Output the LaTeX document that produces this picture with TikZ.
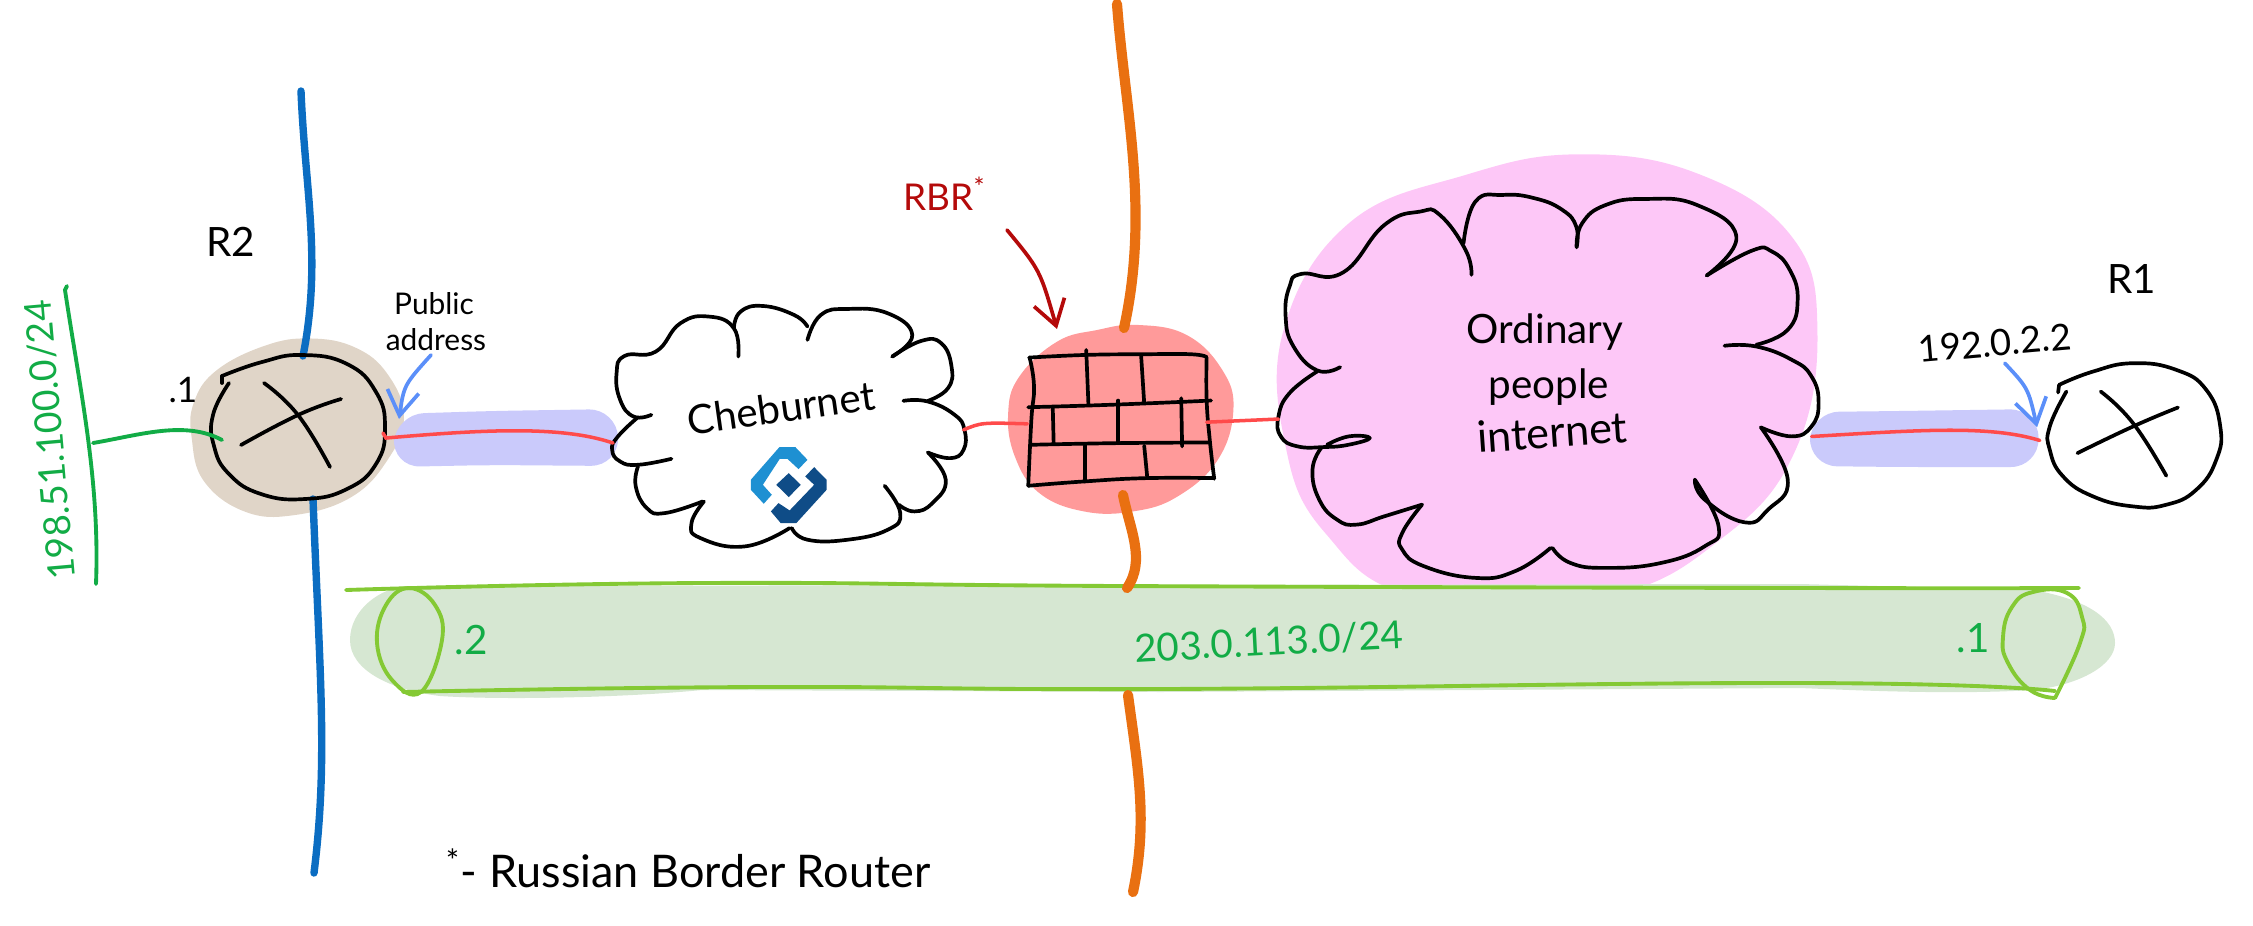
\documentclass[tikz,border=0pt]{standalone}
\usepackage{fontspec}
\setmainfont{Lato}
\usetikzlibrary{arrows.meta}
\definecolor{brownfill}{HTML}{E0D5C8}
\definecolor{lavfill}{HTML}{CACAFB}
\definecolor{redfill}{HTML}{FF9A9A}
\definecolor{pinkfill}{HTML}{FDC7F7}
\definecolor{bandfill}{HTML}{D6E7D2}
\definecolor{bandline}{HTML}{84C934}
\definecolor{netgreen}{HTML}{12AC46}
\definecolor{asblue}{HTML}{0B6DC2}
\definecolor{asorange}{HTML}{E97011}
\definecolor{linkred}{HTML}{FF4B4B}
\definecolor{notered}{HTML}{B40A0A}
\definecolor{noteblue}{HTML}{5B8FF9}
\definecolor{logolight}{HTML}{1E90D2}
\definecolor{logodark}{HTML}{0F4C87}

\begin{document}
\begin{tikzpicture}[
        x=0.1mm,
        y=-0.1mm,
        ink/.style={
            black,
            line width=1.05pt,
            line cap=round,
            line join=round,
        },
        asline/.style={
            line width=2.1pt,
            line cap=round,
            asblue,
        },
        borderline/.style={
            line width=2.9pt,
            line cap=round,
            asorange,
        },
        redlink/.style={
            line width=1pt,
            line cap=round,
            linkred,
        },
        netline/.style={
            line width=1.1pt,
            line cap=round,
            netgreen,
        },
        bandedge/.style={
            line width=1.1pt,
            line cap=round,
            bandline,
        },
        notearrow/.style={
            line width=1.05pt,
            line cap=round,
            -{Straight Barb[length=7pt, width=9pt]},
        },
        hand/.style={
            inner sep=0pt,
            font=\fontsize{11.5}{13}\selectfont,
        },
        handsmall/.style={
            inner sep=0pt,
            font=\fontsize{8.5}{10}\selectfont,
        },
        smoothline/.style={
            smooth,
            tension=0.8,
        },
        smoothblob/.style={
            smooth cycle,
            tension=0.7,
        },
        pill/.style={
            lavfill,
            rounded corners=8pt,
        },
    ]
    \useasboundingbox (0, 0) rectangle (2253, 925);

    % filled blobs
    \begin{scope}[shift={(0, 60)}, xscale=0.408, yscale=0.357]
        \fill[brownfill] plot[smoothblob] coordinates {
            (760,780) (650,800) (530,870) (475,960) (470,1060) (500,1180) (600,1265)
            (720,1275) (860,1225) (950,1120) (990,1000) (950,880) (870,805)};
    \end{scope}
    \fill[pill] (396,414) -- (490,411) -- (617,409) -- (619,466) -- (490,465) -- (392,467) -- cycle;
    \begin{scope}[shift={(580, 260)}, xscale=0.446, yscale=0.333]
        \fill[redfill] plot[smoothblob] coordinates {
            (1250,195) (1360,225) (1440,330) (1465,450) (1430,600) (1340,710) (1240,755)
            (1130,755) (1030,700) (975,590) (960,460) (985,350) (1070,245) (1160,210)};
    \end{scope}
    \begin{scope}[shift={(1250, 130)}, xscale=0.3954, yscale=0.333]
        \fill[pinkfill] plot[smoothblob] coordinates {
            (830,73) (545,135) (250,280) (85,600) (90,950) (190,1210) (420,1400) (900,1400)
            (1200,1220) (1380,960) (1435,600) (1370,320) (1130,130)};
    \end{scope}
    \fill[pill] (1811,412) -- (1900,411) -- (2038,409) -- (2039,467) -- (1900,467) -- (1809,466) -- cycle;

    % green band
    \fill[bandfill] (350,640) .. controls (350,610) and (380,587) .. (409,586) -- (1800,584) -- (2033,590)
        .. controls (2090,600) and (2115,620) .. (2115,643) .. controls (2115,665) and (2080,685) .. (2033,690)
        .. controls (1950,695) and (1850,690) .. (1800,688) -- (1161,692) -- (702,690)
        .. controls (620,698) and (500,700) .. (440,696) .. controls (390,690) and (350,670) .. (350,640) -- cycle;
    \draw[bandedge] plot[smoothline] coordinates {(346,590) (702,583) (1121,586) (1800,588) (2079,588)};
    \draw[bandedge] plot[smoothline] coordinates {(403,692) (759,687) (1161,689) (1800,683) (2055,691)};
    \draw[bandedge] plot[smoothblob] coordinates {(409,588) (435,605) (442,640) (421,692) (392,680) (377,643) (386,605)};
    \draw[bandedge] plot[smoothline] coordinates {(2055,698) (2030,690) (2008,663) (2003,637) (2012,607) (2033,592) (2067,593) (2082,617) (2080,643) (2055,698)};

    % router R2
    \draw[asline] (301,91) .. controls (305,190) and (322,260) .. (303,356);
    \draw[asline] (313,499) .. controls (320,680) and (328,760) .. (314,873);
    \draw[ink] (222,383) -- (222,376);
    \draw[ink] plot[smoothline] coordinates {
        (222,376) (262,362) (302,355) (347,364) (376,392) (385,428) (376,464) (347,489)
        (305,499) (261,494) (229,474) (214,446) (213,415) (229,383)};
    \draw[ink] plot[smoothline] coordinates {(241,445) (298,415) (341,399)};
    \draw[ink] plot[smoothline] coordinates {(264,383) (298,415) (330,467)};

    \node[hand] (r2label) at (231, 242) {R2};
    \node[hand, font=\fontsize{10}{12}\selectfont] (r2dot) at (183, 390) {.1};
    \node[handsmall] (publabel) at (434, 304) {Public};
    \node[handsmall] (addrlabel) at (436, 340) {address};

    \draw[netline] (67,286) -- (65,290) .. controls (80,390) and (100,480) .. (96,584);
    \draw[netline] (93,443) .. controls (140,435) and (185,420) .. (222,440);
    \node[hand, netgreen, rotate=95, font=\fontsize{10.6}{12}\selectfont] (leftnet) at (50, 440) {198.51.100.0/24};

    % cheburnet cloud
    \begin{scope}[shift={(580, 260)}, xscale=0.446, yscale=0.333]
        \draw[ink] plot[smoothline] coordinates {(355,290) (345,205) (290,170) (225,190) (170,275) (100,288) (82,340) (90,420) (120,470) (160,465)};
        \draw[ink] plot[smoothline] coordinates {(130,472) (85,530) (72,570) (90,605) (130,615) (205,597)};
        \draw[ink] plot[smoothline] coordinates {(130,620) (125,680) (150,745) (190,760) (275,725)};
        \draw[ink] plot[smoothline] coordinates {(278,725) (250,790) (270,835) (370,860) (470,805)};
        \draw[ink] plot[smoothline] coordinates {(475,805) (510,840) (600,840) (690,810) (718,760) (683,678)};
        \draw[ink] plot[smoothline] coordinates {(715,735) (750,755) (790,730) (820,660) (780,578)};
        \draw[ink] plot[smoothline] coordinates {(780,578) (830,595) (860,570) (862,510) (840,465) (780,425) (725,423)};
        \draw[ink] plot[smoothline] coordinates {(780,423) (825,385) (833,320) (810,250) (765,243) (700,290)};
        \draw[ink] plot[smoothline] coordinates {(700,290) (745,225) (690,160) (600,147) (540,165) (510,240)};
        \draw[ink] plot[smoothline] coordinates {(510,200) (480,165) (410,138) (360,155) (345,205)};

        % logo
        \fill[logolight] (447,562) -- (483,562) -- (510,600) -- (490,628) -- (465,597) -- (448,597)
            -- (410,675) -- (430,705) -- (412,732) -- (383,690) -- (383,660) -- cycle;
        \fill[logodark] (525,622) -- (553,660) -- (553,690) -- (485,790) -- (450,790) -- (428,755)
            -- (445,730) -- (470,752) -- (525,675) -- (505,650) -- cycle;
        \fill[logodark] (468,640) -- (495,675) -- (468,712) -- (440,675) -- cycle;

        % firewall
        \draw[ink] plot[smoothline] coordinates {(1007,293) (1135,285) (1260,283) (1370,283) (1405,292)};
        \draw[ink] plot[smoothline] coordinates {(1405,292) (1405,420) (1412,540) (1422,657)};
        \draw[ink] plot[smoothline] coordinates {(1422,655) (1270,655) (1130,665) (1005,678)};
        \draw[ink] plot[smoothline] coordinates {(1008,293) (1018,380) (1012,480) (1005,678)};
        \draw[ink] plot[smoothline] coordinates {(1005,442) (1140,437) (1280,430) (1415,422)};
        \draw[ink] plot[smoothline] coordinates {(1010,555) (1200,550) (1410,548)};
        \draw[ink] (1135,270) -- (1140,435);
        \draw[ink] (1258,285) -- (1265,430);
        \draw[ink] (1060,445) -- (1062,550);
        \draw[ink] (1207,422) -- (1207,550);
        \draw[ink] (1348,415) -- (1350,560);
        \draw[ink] (1133,558) -- (1133,665);
        \draw[ink] (1265,558) -- (1272,655);

        \coordinate (chebeast) at (860,510);
        \coordinate (fwwest) at (1003,492);
        \coordinate (fweast) at (1405,487);
        \draw[redlink] (chebeast) .. controls (900,488) .. (fwwest);
    \end{scope}
    \node[hand, rotate=8] (chebnet) at (781, 408) {Cheburnet};

    % border lines
    \draw[borderline] (1117,4) .. controls (1125,110) and (1150,210) .. (1124,328);
    \draw[borderline] (1123,495) .. controls (1130,530) and (1146,560) .. (1127,588);
    \draw[borderline] (1128,695) .. controls (1138,770) and (1148,820) .. (1133,892);

    \node[hand, notered, font=\fontsize{10.5}{12}\selectfont] (rbrlabel) at (945, 194) {RBR\textsuperscript{*}};
    \coordinate (rbrtail) at (1007, 230);
    \coordinate (rbrtip) at (1057, 329);
    \draw[notearrow, notered] (rbrtail) .. controls (1040,270) .. (rbrtip);

    % internet cloud
    \begin{scope}[shift={(1250, 130)}, xscale=0.3954, yscale=0.333]
        \draw[ink] plot[smoothline] coordinates {(560,435) (545,360) (480,255) (430,245) (340,285) (235,428) (130,432) (100,470) (90,560) (110,650) (170,722) (228,712)};
        \draw[ink] plot[smoothline] coordinates {(170,725) (100,790) (72,860) (78,920) (120,950) (190,952) (250,945) (303,925) (250,920) (195,945)};
        \draw[ink] plot[smoothline] coordinates {(180,955) (158,1020) (175,1110) (220,1170) (270,1185) (340,1160) (435,1125)};
        \draw[ink] plot[smoothline] coordinates {(435,1125) (385,1210) (385,1260) (440,1310) (570,1345) (670,1325) (760,1255)};
        \draw[ink] plot[smoothline] coordinates {(765,1255) (810,1300) (900,1315) (1040,1300) (1150,1250) (1185,1190) (1125,1050)};
        \draw[ink] plot[smoothline] coordinates {(1125,1050) (1150,1110) (1250,1178) (1310,1140) (1360,1050) (1292,893)};
        \draw[ink] plot[smoothline] coordinates {(1292,893) (1370,920) (1420,890) (1438,820) (1420,740) (1370,690) (1280,650) (1200,648)};
        \draw[ink] plot[smoothline] coordinates {(1280,645) (1360,600) (1385,510) (1365,420) (1320,365) (1270,362) (1155,437)};
        \draw[ink] plot[smoothline] coordinates {(1155,437) (1230,320) (1130,225) (1000,207) (900,225) (840,280) (826,352)};
        \draw[ink] plot[smoothline] coordinates {(826,352) (825,290) (790,240) (720,205) (640,195) (570,215) (540,340)};
        \coordinate (netwest) at (72,868);
    \end{scope}
    \node[hand] (ordlabel) at (1545, 332) {Ordinary};
    \node[hand] (peoplelabel) at (1549, 387) {people};
    \node[hand, rotate=4, font=\fontsize{12.3}{14}\selectfont] (netlabel) at (1552, 432) {internet};

    % router R1
    \begin{scope}[shift={(1800, 240)}, scale=0.333]
        \draw[ink] (775,458) -- (778,435);
        \draw[ink] plot[smoothline] coordinates {
            (778,435) (880,395) (1000,370) (1130,390) (1220,450) (1262,560) (1250,660) (1190,750)
            (1100,795) (1000,800) (880,770) (790,710) (750,630) (750,560) (800,455)};
        \draw[ink] plot[smoothline] coordinates {(833,640) (1000,560) (1135,503)};
        \draw[ink] plot[smoothline] coordinates {(903,455) (1000,550) (1100,708)};
        \coordinate (r1east) at (35,590);
        \coordinate (r1tip) at (720,602);
        \coordinate (ip1tail) at (615,370);
        \coordinate (ip1tip) at (712,562);
        \draw[notearrow, noteblue] (ip1tail) .. controls (685,445) .. (ip1tip);
    \end{scope}
    \node[hand] (r1label) at (2132, 279) {R1};
    \node[hand, rotate=5, font=\fontsize{10.4}{12}\selectfont] (ip1label) at (1995, 343) {192.0.2.2};

    % links
    \coordinate (r2east) at (383, 433);
    \coordinate (chebwest) at (613, 443);
    \draw[redlink] (r2east) -- (386,438) .. controls (480,430) and (560,425) .. (chebwest);
    \draw[redlink] (fweast) -- (netwest);
    \draw[redlink] (r1east) .. controls (1920,430) and (1990,425) .. (r1tip);
    \coordinate (pubtail) at (431, 355);
    \coordinate (pubtip) at (399, 419);
    \draw[notearrow, noteblue] (pubtail) .. controls (404,385) .. (pubtip);

    % band labels
    \node[hand, netgreen] (band2) at (471, 640) {.2};
    \node[hand, netgreen] (band1) at (1973, 638) {.1};
    \node[hand, netgreen, rotate=3, font=\fontsize{11}{13}\selectfont] (bandnet) at (1269, 642) {203.0.113.0/24};

    \node[hand, font=\fontsize{12.8}{15}\selectfont] (footnote) at (688, 868) {\textsuperscript{*}- Russian Border Router};
\end{tikzpicture}
\end{document}
